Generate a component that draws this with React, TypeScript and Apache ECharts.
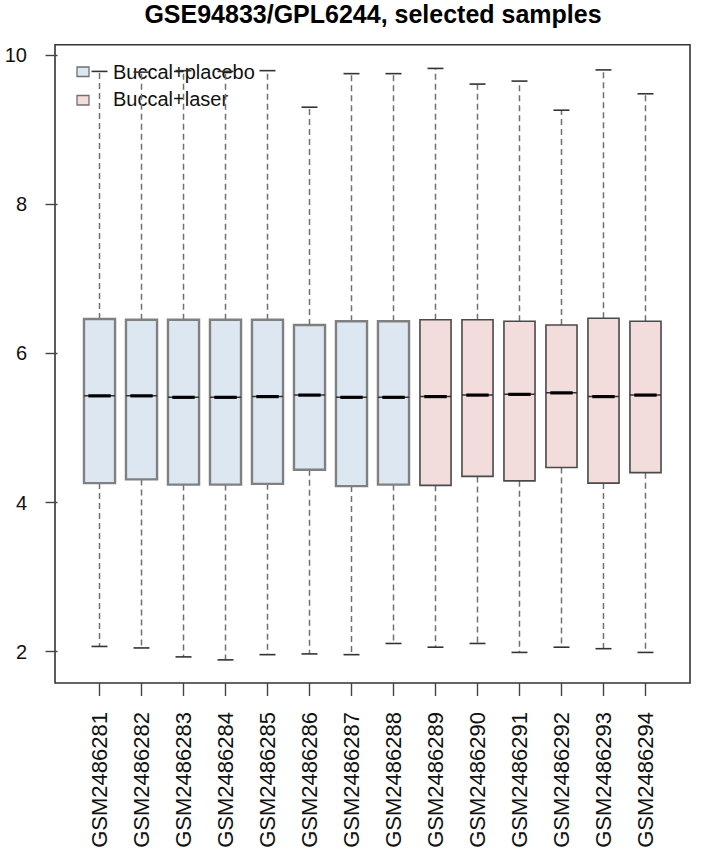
import React, { useEffect, useRef } from "react";
import * as echarts from "echarts";

const samples = [
  "GSM2486281", "GSM2486282", "GSM2486283", "GSM2486284", "GSM2486285",
  "GSM2486286", "GSM2486287", "GSM2486288", "GSM2486289", "GSM2486290",
  "GSM2486291", "GSM2486292", "GSM2486293", "GSM2486294",
];
const groups = ["placebo", "placebo", "placebo", "placebo", "placebo", "placebo", "placebo", "placebo",
  "laser", "laser", "laser", "laser", "laser", "laser"];
const mins = [2.07, 2.05, 1.93, 1.89, 1.96, 1.97, 1.96, 2.11, 2.06, 2.11, 1.99, 2.06, 2.04, 1.99];
const q1s = [4.26, 4.31, 4.24, 4.24, 4.25, 4.44, 4.22, 4.24, 4.23, 4.35, 4.29, 4.47, 4.26, 4.40];
const medians = [5.43, 5.43, 5.41, 5.41, 5.42, 5.44, 5.41, 5.41, 5.42, 5.44, 5.45, 5.47, 5.42, 5.44];
const q3s = [6.46, 6.45, 6.45, 6.45, 6.45, 6.38, 6.43, 6.43, 6.45, 6.45, 6.43, 6.38, 6.47, 6.43];
const maxs = [9.78, 9.77, 9.79, 9.78, 9.79, 9.30, 9.75, 9.75, 9.82, 9.61, 9.65, 9.26, 9.80, 9.48];
const yTicks = [2, 4, 6, 8, 10];
const legendLabels = ["Buccal+placebo", "Buccal+laser"];
const title = "GSE94833/GPL6244, selected samples";

const FONT = "'Liberation Sans', Arial, Helvetica, sans-serif";
const styles: Record<string, { fill: string; stroke: string; lw: number }> = {
  placebo: { fill: "#dde7f2", stroke: "#808080", lw: 2.4 },
  laser: { fill: "#f2dddc", stroke: "#4a4a4a", lw: 1.6 },
};

function buildData(g: string) {
  const out: number[][] = [];
  samples.forEach((_, i) => {
    if (groups[i] === g) out.push([i + 1, mins[i], q1s[i], medians[i], q3s[i], maxs[i]]);
  });
  return out;
}

function makeSeries(g: string, name: string) {
  const st = styles[g];
  return {
    type: "custom",
    name,
    data: buildData(g),
    encode: { x: 0, y: [1, 2, 3, 4, 5] },
    renderItem: (params: any, api: any) => {
      const x = api.value(0);
      const lo = api.coord([x, api.value(1)]);
      const q1 = api.coord([x, api.value(2)]);
      const md = api.coord([x, api.value(3)]);
      const q3 = api.coord([x, api.value(4)]);
      const hi = api.coord([x, api.value(5)]);
      const unit = api.size([1, 0])[0];
      const bw = unit * 0.74;
      const cw = unit * 0.38;
      const cx = lo[0];
      const whisk = { stroke: "#707070", lineWidth: 1.5, lineDash: [6, 4] };
      const cap = { stroke: "#333", lineWidth: 1.6 };
      return {
        type: "group",
        children: [
          { type: "line", shape: { x1: cx, y1: q3[1], x2: cx, y2: hi[1] }, style: whisk },
          { type: "line", shape: { x1: cx, y1: q1[1], x2: cx, y2: lo[1] }, style: whisk },
          { type: "line", shape: { x1: cx - cw / 2, y1: hi[1], x2: cx + cw / 2, y2: hi[1] }, style: cap },
          { type: "line", shape: { x1: cx - cw / 2, y1: lo[1], x2: cx + cw / 2, y2: lo[1] }, style: cap },
          {
            type: "rect",
            shape: { x: cx - bw / 2, y: q3[1], width: bw, height: q1[1] - q3[1] },
            style: { fill: st.fill, stroke: st.stroke, lineWidth: st.lw },
          },
          { type: "line", shape: { x1: cx - bw / 2, y1: md[1], x2: cx + bw / 2, y2: md[1] }, style: { stroke: "#333", lineWidth: 1.5 } },
          { type: "line", shape: { x1: cx - bw * 0.36, y1: md[1], x2: cx + bw * 0.36, y2: md[1] }, style: { stroke: "#000", lineWidth: 3.2 } },
        ],
      };
    },
  };
}

export default function App() {
  const ref = useRef<HTMLDivElement>(null);
  useEffect(() => {
    document.body.style.margin = "0";
    const chart = echarts.init(ref.current!, undefined, { renderer: "svg" });
    const xVals = samples.map((_, i) => i + 1);
    chart.setOption({
      animation: false,
      backgroundColor: "#ffffff",
      grid: {
        left: 55, top: 44.7, right: 26, bottom: 184,
        show: true, borderColor: "#333", borderWidth: 1.6, backgroundColor: "transparent",
      },
      xAxis: {
        type: "value",
        min: -0.06,
        max: 15.06,
        axisLine: { show: false },
        splitLine: { show: false },
        axisTick: { show: true, length: 13, customValues: xVals, lineStyle: { color: "#444", width: 1.4 } },
        axisLabel: {
          customValues: xVals,
          formatter: (v: number) => samples[Math.round(v) - 1] ?? "",
          rotate: 90,
          margin: 29,
          fontSize: 22,
          fontFamily: FONT,
          color: "#111",
        },
      },
      yAxis: {
        type: "value",
        min: 1.58,
        max: 10.138,
        axisLine: { show: false },
        splitLine: { show: false },
        axisTick: { show: true, length: 12, customValues: yTicks, lineStyle: { color: "#444", width: 1.4 } },
        axisLabel: {
          customValues: yTicks,
          margin: 28,
          fontSize: 20,
          fontFamily: FONT,
          color: "#111",
        },
      },
      series: [makeSeries("placebo", legendLabels[0]), makeSeries("laser", legendLabels[1])],
      graphic: [
        {
          type: "text", x: 373, y: 13.5,
          style: { text: title, fontSize: 25, fontWeight: "bold", fontFamily: FONT, fill: "#000", textAlign: "center", textVerticalAlign: "middle" },
        },
        { type: "rect", shape: { x: 77, y: 67, width: 12, height: 9.5 }, style: { fill: styles.placebo.fill, stroke: "#707070", lineWidth: 1.3 } },
        { type: "rect", shape: { x: 77, y: 95.5, width: 12, height: 9.5 }, style: { fill: styles.laser.fill, stroke: "#707070", lineWidth: 1.3 } },
        {
          type: "text", x: 113, y: 71.5,
          style: { text: legendLabels[0], fontSize: 20, fontFamily: FONT, fill: "#111", textAlign: "left", textVerticalAlign: "middle" },
        },
        {
          type: "text", x: 113, y: 99,
          style: { text: legendLabels[1], fontSize: 20, fontFamily: FONT, fill: "#111", textAlign: "left", textVerticalAlign: "middle" },
        },
      ],
    });
    return () => chart.dispose();
  }, []);
  return <div ref={ref} style={{ position: "absolute", left: 0, top: 0, width: 716, height: 867 }} />;
}
